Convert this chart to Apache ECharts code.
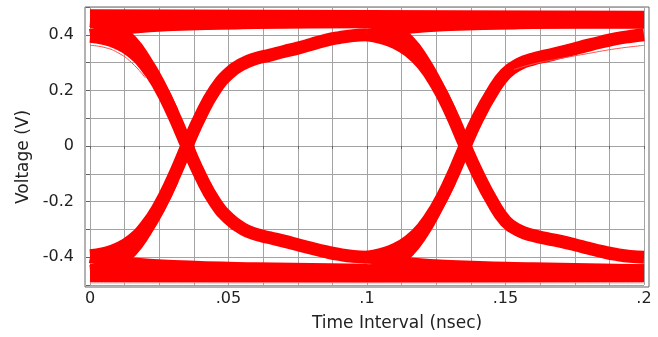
<!DOCTYPE html>
<html>
<head>
<meta charset="utf-8">
<script src="https://cdn.jsdelivr.net/npm/echarts@6/dist/echarts.min.js"></script>
<style>
html, body { margin: 0; padding: 0; background: #fff; }
#chart { width: 658px; height: 337px; }
</style>
</head>
<body>
<div id="chart"></div>
<script>
// tick labels
var xTickValues = [0, 0.05, 0.1, 0.15, 0.2];
var xTickLabels = ['0', '.05', '.1', '.15', '.2'];
var yTickValues = [-0.4, -0.2, 0, 0.2, 0.4];
var yTickLabels = ['-0.4', '-0.2', '0', '0.2', '0.4'];

// eye traces, [time (nsec), voltage (V)]
// flat "1" and "0" levels
var topHigh = [[0, 0.47], [0.1, 0.468], [0.2, 0.465]];
var topMid = [[0, 0.445], [0.1, 0.447], [0.2, 0.443]];
var botLow = [[0, -0.468], [0.1, -0.47], [0.2, -0.468]];
var botMid = [[0, -0.445], [0.1, -0.447], [0.2, -0.447]];
// settling after an edge
var settleHigh0 = [[0, 0.40], [0.006, 0.41], [0.015, 0.425], [0.03, 0.435], [0.06, 0.442], [0.1, 0.445]];
var settleHigh1 = [[0.1, 0.40], [0.106, 0.41], [0.115, 0.425], [0.13, 0.435], [0.16, 0.442], [0.2, 0.445]];
var settleLow0 = [[0, -0.40], [0.006, -0.41], [0.015, -0.422], [0.03, -0.432], [0.06, -0.44], [0.1, -0.445]];
var settleLow1 = [[0.1, -0.40], [0.106, -0.41], [0.115, -0.422], [0.13, -0.432], [0.16, -0.44], [0.2, -0.447]];
// first crossing
var rise1 = [[0, -0.395], [0.005, -0.387], [0.01, -0.37], [0.015, -0.34], [0.02, -0.29], [0.025, -0.215], [0.03, -0.115], [0.035, 0], [0.04, 0.11], [0.045, 0.2], [0.05, 0.26], [0.055, 0.295], [0.06, 0.315], [0.065, 0.327], [0.07, 0.34], [0.075, 0.352], [0.08, 0.366], [0.085, 0.38], [0.09, 0.39], [0.095, 0.397], [0.1, 0.40]];
var rise1Low = [[0, -0.45], [0.005, -0.44], [0.01, -0.418], [0.015, -0.378], [0.02, -0.31], [0.025, -0.225], [0.03, -0.12]];
var fall1 = [[0, 0.395], [0.005, 0.387], [0.01, 0.37], [0.015, 0.34], [0.02, 0.29], [0.025, 0.215], [0.03, 0.115], [0.035, 0], [0.04, -0.11], [0.045, -0.2], [0.05, -0.26], [0.055, -0.297], [0.06, -0.318], [0.065, -0.33], [0.07, -0.342], [0.075, -0.355], [0.08, -0.368], [0.085, -0.38], [0.09, -0.39], [0.095, -0.397], [0.1, -0.40]];
var fall1High = [[0, 0.45], [0.005, 0.44], [0.01, 0.418], [0.015, 0.378], [0.02, 0.31], [0.025, 0.225], [0.03, 0.12]];
// second crossing
var rise2 = [[0.1, -0.40], [0.105, -0.39], [0.11, -0.373], [0.115, -0.343], [0.12, -0.295], [0.125, -0.222], [0.13, -0.125], [0.135, -0.01], [0.14, 0.1], [0.145, 0.19], [0.15, 0.26], [0.155, 0.295], [0.16, 0.313], [0.165, 0.325], [0.17, 0.337], [0.175, 0.35], [0.18, 0.363], [0.185, 0.375], [0.19, 0.386], [0.195, 0.394], [0.2, 0.40]];
var rise2Low = [[0.1, -0.45], [0.105, -0.44], [0.11, -0.418], [0.115, -0.38], [0.12, -0.315], [0.125, -0.228], [0.13, -0.128]];
var fall2 = [[0.1, 0.40], [0.105, 0.39], [0.11, 0.373], [0.115, 0.343], [0.12, 0.295], [0.125, 0.222], [0.13, 0.125], [0.135, 0.01], [0.14, -0.1], [0.145, -0.195], [0.15, -0.27], [0.155, -0.305], [0.16, -0.322], [0.165, -0.333], [0.17, -0.343], [0.175, -0.355], [0.18, -0.368], [0.185, -0.38], [0.19, -0.39], [0.195, -0.397], [0.2, -0.40]];
var fall2High = [[0.1, 0.45], [0.105, 0.44], [0.11, 0.418], [0.115, 0.38], [0.12, 0.315], [0.125, 0.228], [0.13, 0.128]];
// stray single traces
var strayFall1 = [[0, 0.362], [0.005, 0.355], [0.01, 0.336], [0.015, 0.3], [0.02, 0.245]];
var strayRise2 = [[0.153, 0.275], [0.16, 0.295], [0.17, 0.315], [0.18, 0.333], [0.19, 0.35], [0.2, 0.362]];
var strayBottom = [[0, -0.492], [0.2, -0.492]];

function pickLabel(values, labels, v) {
	for (var i = 0; i < values.length; i++) {
		if (Math.abs(values[i] - v) < 1e-6) return labels[i];
	}
	return '';
}

function trace(data, width, color) {
	return {
		type: 'line',
		xAxisIndex: 0,
		yAxisIndex: 0,
		data: data,
		showSymbol: false,
		smooth: 0.5,
		silent: true,
		lineStyle: { color: color || '#ff0000', width: width, join: 'round' }
	};
}

var gridColor = '#a3a3a3';
var textColor = '#222';
var font = 'DejaVu Sans';

var myChart = echarts.init(document.getElementById('chart'));
myChart.setOption({
	animation: false,
	grid: [
		{ left: 90, right: 14, top: 7, bottom: 50 },
		// outer frame
		{ left: 85, right: 9, top: 7, bottom: 50, show: true, borderColor: '#666', borderWidth: 1 }
	],
	xAxis: [
		{
			type: 'value',
			gridIndex: 0,
			min: 0,
			max: 0.2,
			interval: 0.0125,
			name: 'Time Interval (nsec)',
			nameLocation: 'middle',
			nameGap: 30,
			nameTextStyle: { fontFamily: font, fontSize: 17, color: textColor, padding: [0, 0, 0, 60] },
			axisLine: { show: false },
			axisTick: { show: true, length: 3, lineStyle: { color: '#666' } },
			axisLabel: {
				fontFamily: font, fontSize: 16, color: textColor, margin: 6,
				showMinLabel: true, showMaxLabel: true,
				formatter: function (v) { return pickLabel(xTickValues, xTickLabels, v); }
			},
			splitLine: { show: true, lineStyle: { color: gridColor, width: 1 } }
		},
		{ type: 'value', gridIndex: 1, show: false, min: 0, max: 1 }
	],
	yAxis: [
		{
			type: 'value',
			gridIndex: 0,
			min: -0.5,
			max: 0.5,
			interval: 0.1,
			name: 'Voltage (V)',
			nameLocation: 'middle',
			nameRotate: 90,
			nameGap: 52,
			nameTextStyle: { fontFamily: font, fontSize: 17, color: textColor, padding: [0, 22, 0, 0] },
			axisLine: { show: false },
			axisTick: { show: true, length: 4, lineStyle: { color: '#666' } },
			axisLabel: {
				fontFamily: font, fontSize: 16, color: textColor, margin: 16,
				formatter: function (v) { return pickLabel(yTickValues, yTickLabels, v); }
			},
			splitLine: { show: true, lineStyle: { color: gridColor, width: 1 } }
		},
		{ type: 'value', gridIndex: 1, show: false, min: 0, max: 1 }
	],
	series: [
		trace(topHigh, 12),
		trace(topMid, 12),
		trace(botLow, 12),
		trace(botMid, 12),
		trace(settleHigh0, 12),
		trace(settleHigh1, 12),
		trace(settleLow0, 12),
		trace(settleLow1, 12),
		trace(rise1, 13),
		trace(rise1Low, 12),
		trace(fall1, 13),
		trace(fall1High, 12),
		trace(rise2, 13),
		trace(rise2Low, 12),
		trace(fall2, 13),
		trace(fall2High, 12),
		trace(strayFall1, 1, '#ff5050'),
		trace(strayRise2, 1, '#ff5050'),
		trace(strayBottom, 1, '#ff7070')
	]
});
</script>
</body>
</html>
